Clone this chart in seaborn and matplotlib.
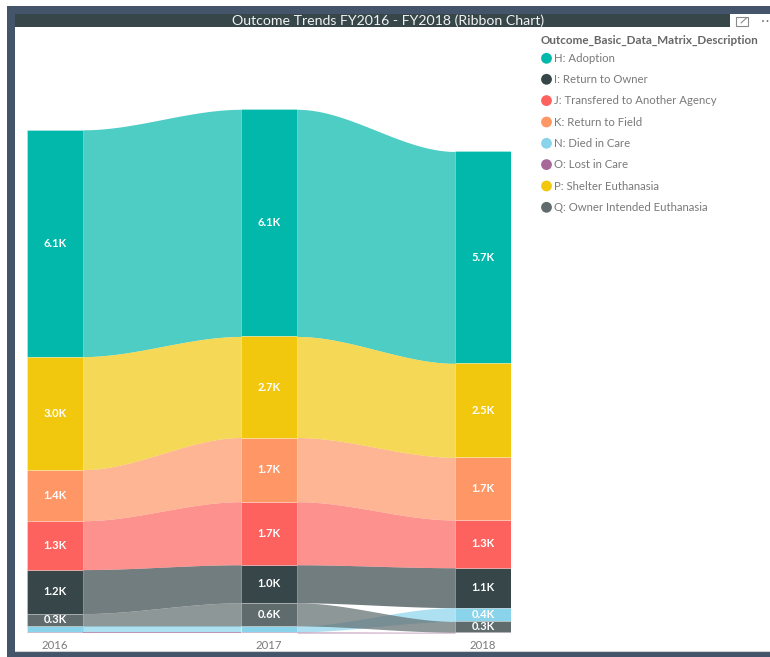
import numpy as np
import pandas as pd
import matplotlib
matplotlib.use("Agg")
import matplotlib.pyplot as plt
import seaborn as sns
from matplotlib.patches import Rectangle, Circle

# ---- data (counts in thousands) ----
years = ["2016", "2017", "2018"]
outcomes = [
    "H: Adoption",
    "I: Return to Owner",
    "J: Transfered to Another Agency",
    "K: Return to Field",
    "N: Died in Care",
    "O: Lost in Care",
    "P: Shelter Euthanasia",
    "Q: Owner Intended Euthanasia",
]
palette = ["#01B8AA", "#374649", "#FD625E", "#FE9666",
           "#8AD4EB", "#A66999", "#F2C80F", "#5F6B6D"]

adoption = [6.08, 6.09, 5.68]
return_to_owner = [1.18, 1.02, 1.07]
transfer_agency = [1.31, 1.69, 1.28]
return_to_field = [1.37, 1.72, 1.68]
died_in_care = [0.16, 0.16, 0.37]
lost_in_care = [0.03, 0.03, 0.02]
shelter_euthanasia = [3.03, 2.71, 2.52]
owner_euthanasia = [0.33, 0.62, 0.29]

chart_title = "Outcome Trends FY2016 - FY2018 (Ribbon Chart)"
legend_title = "Outcome_Basic_Data_Matrix_Description"

series = [adoption, return_to_owner, transfer_agency, return_to_field,
          died_in_care, lost_in_care, shelter_euthanasia, owner_euthanasia]

# long table; within each year the largest outcome sits on top
rows = []
for yi, yr in enumerate(years):
    vals = [(o, s[yi]) for o, s in zip(outcomes, series)]
    vals.sort(key=lambda p: p[1])           # smallest at the bottom
    base = 0.0
    for o, v in vals:
        rows.append(dict(year=yr, outcome=o, value=v, bottom=base))
        base += v
df = pd.DataFrame(rows)
df["year"] = pd.Categorical(df["year"], categories=years, ordered=True)
df = df.sort_values(["outcome", "year"]).reset_index(drop=True)

sns.set_theme(style="white")
plt.rcParams["font.family"] = ["Lato", "DejaVu Sans"]

W, H = 770, 657
fig = plt.figure(figsize=(W / 100, H / 100), dpi=100)

# ---- visual container: frame, title bar, legend ----
bg = fig.add_axes([0, 0, 1, 1], zorder=0)
bg.set_xlim(0, W)
bg.set_ylim(H, 0)
bg.axis("off")
slate = "#44546A"
bg.add_patch(Rectangle((7, 6), W - 7, 8, color=slate, lw=0))
bg.add_patch(Rectangle((7, 6), 8, H - 6, color=slate, lw=0))
bg.add_patch(Rectangle((7, 652), W - 7, 6, color=slate, lw=0))
bg.plot([15, W], [650.5, 650.5], color="#d0d0d0", lw=0.8)
bg.add_patch(Rectangle((15, 14), 715, 13, color="#374649", lw=0))
bg.text(388, 20.5, chart_title, color="#f2f2f2", fontsize=10.2,
        ha="center", va="center")
# focus-mode and more-options icons
bg.add_patch(Rectangle((736, 16.5), 12, 9, fill=False, ec="#8a8a8a", lw=0.8))
bg.plot([741, 747], [23, 17.5], color="#8a8a8a", lw=0.8)
for dx in (763, 767.5):
    bg.add_patch(Circle((dx, 21), 0.9, color="#666666", lw=0))

bg.text(541, 40, legend_title, color="#666666", fontsize=8.4,
        fontweight="bold", ha="left", va="center")
legend_y = [58.3, 79.3, 100.6, 122, 143.3, 164.6, 186, 207.3]
for o, c, ly in zip(outcomes, palette, legend_y):
    bg.add_patch(Circle((546.5, ly), 5.4, color=c, lw=0))
    bg.text(554, ly, o, color="#7a7a7a", fontsize=8.2, ha="left", va="center")

# ---- ribbon chart ----
px_per_k = 37.3
ymax = 14.6
bw = 56 / 214
ax = fig.add_axes([27 / W, 24 / H, 484 / W, ymax * px_per_k / H], zorder=1)
ax.patch.set_alpha(0)

color_of = dict(zip(outcomes, palette))
for o in outcomes:
    sub = df[df["outcome"] == o]
    sns.barplot(data=sub, x="year", y="value", order=years,
                bottom=sub["bottom"].to_numpy(), color=color_of[o],
                width=bw, saturation=1, errorbar=None, ax=ax,
                linewidth=0.5, edgecolor=(1, 1, 1, 0.35))

# ribbons linking each outcome between neighbouring years
for i in range(len(years) - 1):
    xs = np.linspace(i + bw / 2, i + 1 - bw / 2, 200)
    t = (xs - xs[0]) / (xs[-1] - xs[0])
    s = t * t * (3 - 2 * t)
    for o in outcomes:
        sub = df[df["outcome"] == o].set_index("year")
        b0, b1 = sub.loc[years[i], "bottom"], sub.loc[years[i + 1], "bottom"]
        v0, v1 = sub.loc[years[i], "value"], sub.loc[years[i + 1], "value"]
        lo = b0 + (b1 - b0) * s
        hi = (b0 + v0) + ((b1 + v1) - (b0 + v0)) * s
        ax.fill_between(xs, lo, hi, color=color_of[o], alpha=0.7, lw=0)

# data labels
for _, r in df.iterrows():
    if r["value"] >= 0.25:
        ax.text(years.index(r["year"]), r["bottom"] + r["value"] / 2,
                f"{r['value']:.1f}K", color="white", fontsize=8,
                fontweight="bold", ha="center", va="center")

ax.set_xlim(-bw / 2, 2 + bw / 2)
ax.set_ylim(0, ymax)
ax.set_xticks(range(len(years)))
ax.set_xticklabels(years)
ax.set_yticks([])
ax.set_xlabel("")
ax.set_ylabel("")
ax.tick_params(axis="x", length=0, pad=5, labelsize=8.2, labelcolor="#7a7a7a")
sns.despine(ax=ax, left=True, bottom=True)

fig.savefig("out.png", dpi=100)
